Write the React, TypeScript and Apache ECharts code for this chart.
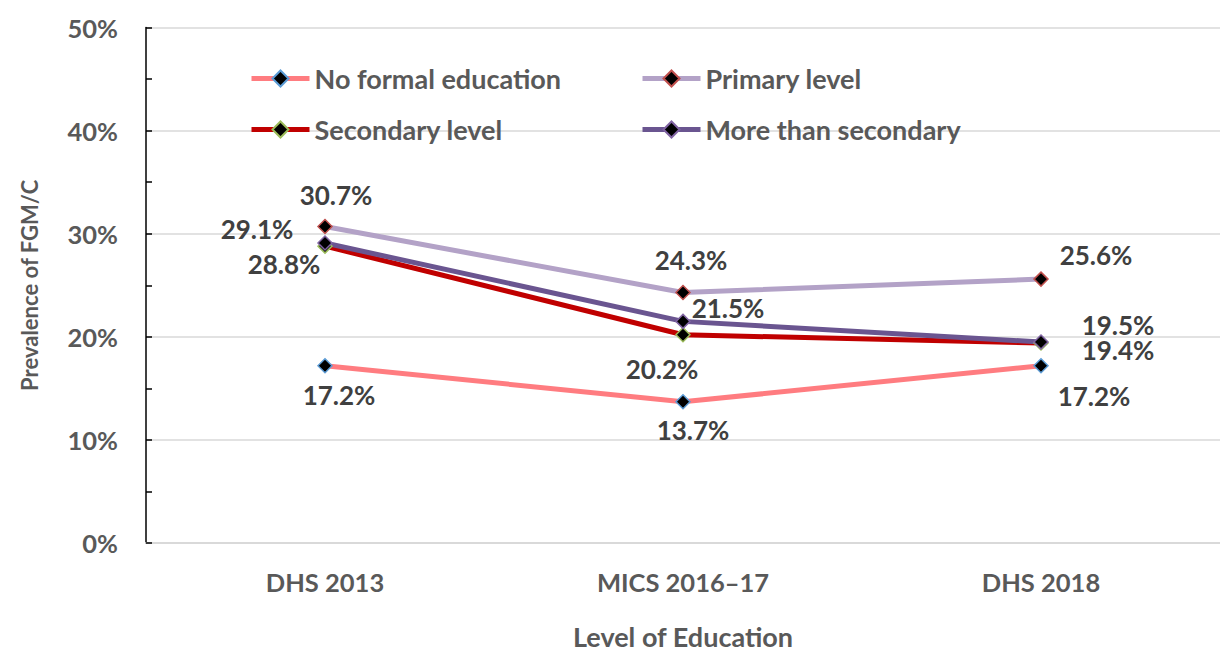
import React, { useEffect, useRef } from "react";
import * as echarts from "echarts";

const categories = ["DHS 2013", "MICS 2016–17", "DHS 2018"];
const noFormal = [17.2, 13.7, 17.2];
const primary = [30.7, 24.3, 25.6];
const secondary = [28.8, 20.2, 19.4];
const moreThan = [29.1, 21.5, 19.5];
const yTicks = [0, 10, 20, 30, 40, 50];

const FONT = "Lato";

export default function App() {
  const ref = useRef<HTMLDivElement>(null);
  useEffect(() => {
    if (!ref.current) return;
    const chart = echarts.init(ref.current, null, { renderer: "svg" });
    const mk = (
      name: string,
      values: number[],
      lineColor: string,
      border: string,
      offsets: number[][]
    ) => ({
      name,
      type: "line",
      data: values.map((v, i) => ({
        value: v,
        label: { offset: offsets[i] },
      })),
      symbol: "diamond",
      symbolSize: 14,
      lineStyle: { color: lineColor, width: 5 },
      itemStyle: { color: "#000000", borderColor: border, borderWidth: 1.5 },
      label: {
        show: true,
        position: "inside",
        align: "center",
        verticalAlign: "middle",
        lineHeight: 20,
        formatter: (p: any) => `${p.value.toFixed(1)}%`,
        fontFamily: FONT,
        fontWeight: "bold",
        fontSize: 26,
        color: "#404040",
      },
      z: 2,
    });
    const legendBase = (name: string, left: number, top: number) => ({
      data: [name],
      left,
      top,
      padding: 0,
      itemWidth: 58,
      itemHeight: 20,
      itemGap: 4,
      selectedMode: false,
      lineStyle: { width: 5 },
      textStyle: {
        fontFamily: FONT,
        fontWeight: "bold",
        fontSize: 27,
        color: "#595959",
      },
    });
    chart.setOption({
      animation: false,
      textStyle: { fontFamily: FONT },
      grid: { left: 146, top: 27.6, width: 1086, height: 521.4, containLabel: false },
      legend: [
        legendBase("No formal education", 249, 65),
        legendBase("Primary level", 640, 65),
        legendBase("Secondary level", 249, 116),
        legendBase("More than secondary", 640, 116),
      ],
      xAxis: {
        type: "category",
        data: categories,
        boundaryGap: true,
        axisLine: { lineStyle: { color: "#D9D9D9", width: 2 } },
        axisTick: { show: false },
        axisLabel: {
          margin: 26,
          fontFamily: FONT,
          fontWeight: "bold",
          fontSize: 25.5,
          color: "#595959",
        },
        name: "Level of Education",
        nameLocation: "middle",
        nameGap: 80,
        nameTextStyle: {
          fontFamily: FONT,
          fontWeight: "bold",
          fontSize: 27,
          color: "#595959",
        },
      },
      yAxis: {
        type: "value",
        min: yTicks[0],
        max: yTicks[yTicks.length - 1],
        interval: 10,
        axisLine: { show: true, lineStyle: { color: "#000000", width: 1.5 } },
        axisTick: { show: true, inside: true, length: 6, lineStyle: { color: "#000000", width: 1.5 } },
        minorTick: { show: true, splitNumber: 2, length: 6, lineStyle: { color: "#000000", width: 1.5 } },
        splitLine: { show: true, lineStyle: { color: "#D9D9D9", width: 1.5 } },
        axisLabel: {
          margin: 28,
          formatter: "{value}%",
          fontFamily: FONT,
          fontWeight: "bold",
          fontSize: 25.5,
          color: "#595959",
        },
        name: "Prevalence of FGM/C",
        nameLocation: "middle",
        nameGap: 106,
        nameRotate: 90,
        nameTextStyle: {
          fontFamily: FONT,
          fontWeight: "bold",
          fontSize: 22,
          color: "#595959",
        },
      },
      series: [
        mk("No formal education", noFormal, "#FF7C80", "#5B9BD5", [[14, 29], [10, 28], [53, 30]]),
        mk("Primary level", primary, "#B3A2C7", "#C0504D", [[11, -32], [8, -33], [55, -24]]),
        mk("Secondary level", secondary, "#C00000", "#9BBB59", [[-41, 18], [-21, 34], [77, 7]]),
        mk("More than secondary", moreThan, "#6A5590", "#8064A2", [[-68, -14], [45, -13], [77, -17]]),
      ],
    });
    return () => chart.dispose();
  }, []);
  return (
    <div
      style={{
        position: "absolute",
        left: 0,
        top: 0,
        width: 1220,
        height: 655,
        overflow: "hidden",
      }}
    >
      <div ref={ref} style={{ width: 1220, height: 655 }} />
    </div>
  );
}
